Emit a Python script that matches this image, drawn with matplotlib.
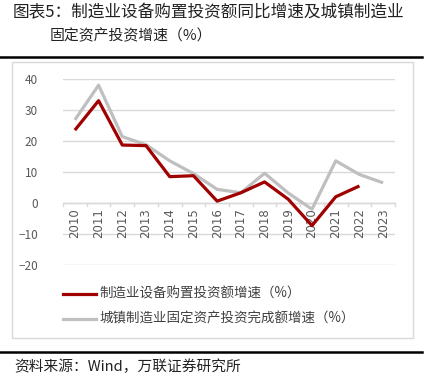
import matplotlib
matplotlib.use("Agg")
import matplotlib.pyplot as plt
from matplotlib.lines import Line2D
from matplotlib.patches import Rectangle

plt.rcParams['font.family'] = ['Noto Sans CJK SC', 'DejaVu Sans']

years = ['2010', '2011', '2012', '2013', '2014', '2015', '2016',
         '2017', '2018', '2019', '2020', '2021', '2022', '2023']
equip = [23.5, 33.0, 18.7, 18.5, 8.5, 8.8, 0.6, 3.3, 6.8, 1.2, -7.3, 2.0, 5.5, None]
fai = [26.8, 38.0, 21.4, 18.8, 13.6, 9.5, 4.4, 3.3, 9.6, 3.2, -2.0, 13.6, 9.2, 6.5]
yticks = [-20, -10, 0, 10, 20, 30, 40]
name_equip = '制造业设备购置投资额增速（%）'
name_fai = '城镇制造业固定资产投资完成额增速（%）'
title1 = '图表5：制造业设备购置投资额同比增速及城镇制造业'
title2 = '固定资产投资增速（%）'
source = '资料来源：Wind，万联证券研究所'

W, H = 430, 386
fig = plt.figure(figsize=(W / 100, H / 100), dpi=100)

def fx(px):
    return px / W

def fy(py):
    return 1 - py / H

# chart frame
fig.add_artist(Rectangle((fx(12), fy(338)), fx(413) - fx(12), fy(62) - fy(338),
                         transform=fig.transFigure, fill=False, edgecolor='#d9d9d9', lw=1))
# black rules
fig.add_artist(Line2D([0, fx(422)], [fy(57), fy(57)], transform=fig.transFigure, color='black', lw=1.8))
fig.add_artist(Line2D([0, fx(422)], [fy(352), fy(352)], transform=fig.transFigure, color='black', lw=1.8))

fig.text(fx(13), fy(13), title1, fontsize=12, va='center', ha='left', color='#222222')
fig.text(fx(50), fy(36), title2, fontsize=10.7, va='center', ha='left', color='#222222')
fig.text(fx(14), fy(367), source, fontsize=10.6, va='center', ha='left', style='italic', color='#222222')

ax = fig.add_axes([fx(63), fy(265), fx(395) - fx(63), fy(79) - fy(265)])
x = list(range(len(years)))
ax.set_xlim(-0.5, len(years) - 0.5)
ax.set_ylim(-20, 40)
ax.set_yticks(yticks)
ax.grid(axis='y', color='#d9d9d9', lw=1)
ax.set_axisbelow(True)
for s in ax.spines.values():
    s.set_visible(False)
ax.tick_params(axis='y', length=0, pad=18, labelsize=8.5, labelcolor='#595959')
ax.tick_params(axis='x', length=0)
ax.set_xticks([])

# x axis at zero with category boundary ticks
ax.axhline(0, color='#d9d9d9', lw=1, zorder=1)
for b in range(len(years) + 1):
    ax.plot([b - 0.5, b - 0.5], [0, -0.9], color='#d9d9d9', lw=1, clip_on=False, zorder=1)
for i, yr in enumerate(years):
    ax.text(i, -1.6, yr, rotation=90, ha='center', va='top', fontsize=8.5,
            color='#595959', family='DejaVu Sans')

xe = [i for i, v in zip(x, equip) if v is not None]
ye = [v for v in equip if v is not None]
ax.plot(x, fai, color='#bfbfbf', lw=2.3, zorder=3, solid_capstyle='butt')
ax.plot(xe, ye, color='#a00000', lw=2.3, zorder=4, solid_capstyle='butt')

# legend
fig.add_artist(Line2D([fx(63), fx(96)], [fy(294), fy(294)], transform=fig.transFigure, color='#a00000', lw=2.3))
fig.add_artist(Line2D([fx(63), fx(96)], [fy(319), fy(319)], transform=fig.transFigure, color='#bfbfbf', lw=2.3))
fig.text(fx(99), fy(294), name_equip, fontsize=9.7, va='center', ha='left', color='#404040')
fig.text(fx(99), fy(319), name_fai, fontsize=9.7, va='center', ha='left', color='#404040')

fig.savefig('out.png', dpi=100)
